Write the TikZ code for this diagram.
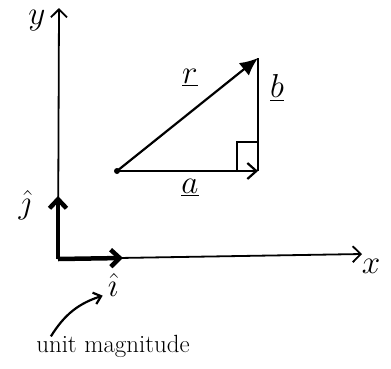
\documentclass[tikz,border=0pt]{standalone}
\usetikzlibrary{arrows.meta}
\tikzset{
  axisline/.style={line width=1.8pt,-{Straight Barb[length=8pt,width=16pt]}},
  unitvec/.style={line width=4.5pt,-{Straight Barb[length=9pt,width=17pt]}},
  vecline/.style={line width=2.2pt},
  lbl/.style={font=\huge, scale=1.6, inner sep=0.5pt},
}

\begin{document}
\begin{tikzpicture}[x=1pt,y=-1pt]
\useasboundingbox (0,0) rectangle (391,368);

\coordinate (O) at (58,259);
\coordinate (ytip) at (59,8);
\coordinate (xtip) at (362,254);
\coordinate (itip) at (123,258);
\coordinate (jtip) at (58,196);
\coordinate (A) at (117,171);
\coordinate (B) at (258,171);
\coordinate (C) at (258,58);
\coordinate (sqa) at (237,171);
\coordinate (sqb) at (237,142);
\coordinate (sqc) at (258,142);

% axes and unit vectors
\draw[axisline] (O) -- (ytip);
\draw[axisline] (O) -- (xtip);
\draw[unitvec] (O) -- (itip);
\draw[unitvec] (O) -- (jtip);

% triangle a + b = r
\fill (A) circle (3pt);
\draw[vecline,-{Straight Barb[length=9pt,width=16pt]}] (A) -- (B);
\draw[vecline] (B) -- (C);
\draw[vecline,-{Latex[length=18pt,width=16pt]}] (A) -- (C);
\draw[vecline] (sqa) -- (sqb) -- (sqc);

\node[lbl] (ylab) at (37,21) {$y$};
\node[lbl] (xlab) at (371,266) {$x$};
\node[lbl] (rlab) at (190,78) {$\underline{r}$};
\node[lbl] (blab) at (277,88) {$\underline{b}$};
\node[lbl] (alab) at (190,188) {$\underline{a}$};
\node[lbl] (jlab) at (25,205) {$\hat{\jmath}$};
\node[lbl] (ilab) at (113,285) {$\hat{\imath}$};
\node[font=\huge, scale=1.2, inner sep=1pt] (note) at (113,346) {unit magnitude};

\draw[vecline,-{Straight Barb[length=7pt,width=12pt]}] ([xshift=16pt,yshift=-3pt]note.north west) to[bend left=20] ([xshift=-4pt,yshift=2pt]ilab.south west);

\end{tikzpicture}
\end{document}
